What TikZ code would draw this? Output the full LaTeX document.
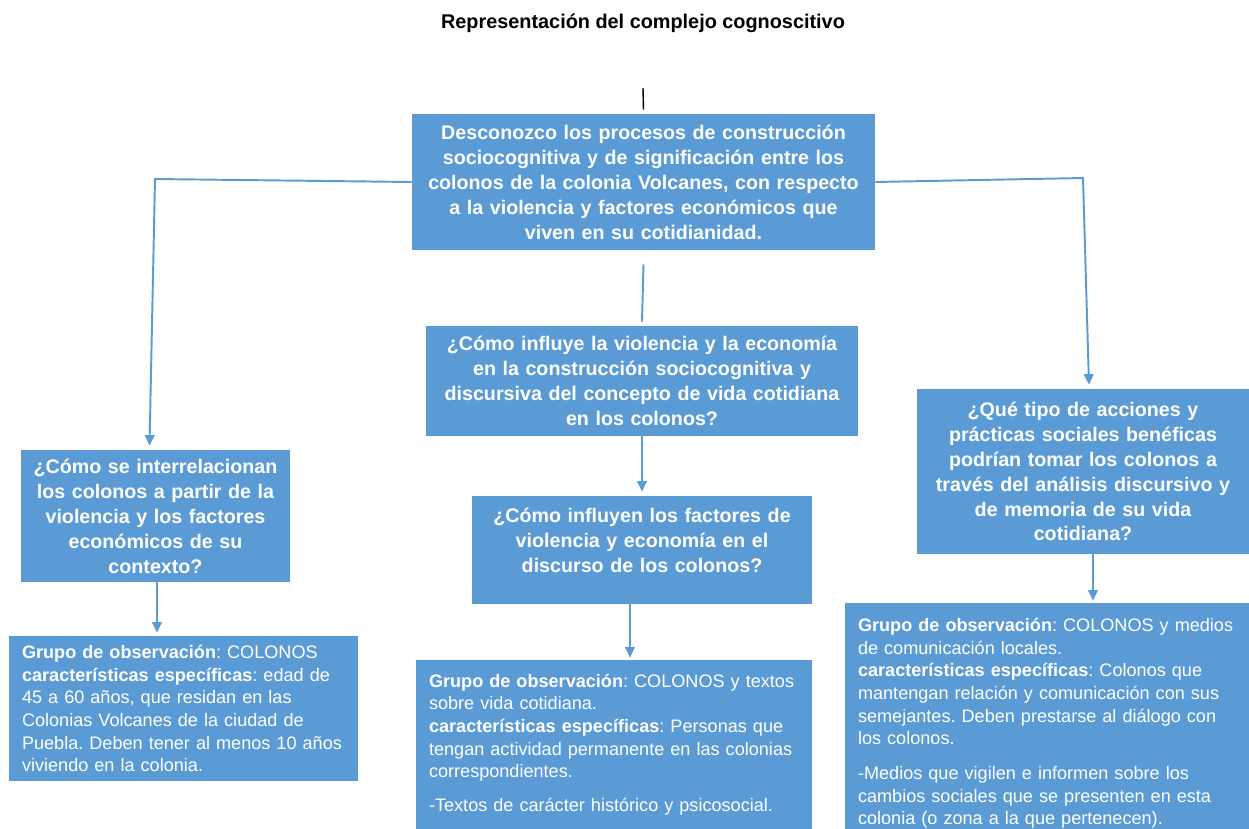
\documentclass[tikz,border=0pt]{standalone}
\usepackage{fontspec}
\setmainfont{Liberation Sans}
\usepackage{xcolor}
\usetikzlibrary{arrows.meta, positioning, calc}

\definecolor{azul}{HTML}{5B9BD5}
\frenchspacing
\hyphenpenalty=10000
\exhyphenpenalty=10000

\tikzset{
  pregunta/.style={fill=azul, text=white, align=center, inner sep=0.14cm,
    font=\fontsize{11.2}{14.2}\selectfont\bfseries},
  grupo/.style={fill=azul, text=white, align=left, inner xsep=0.26cm, inner ysep=0.1cm,
    font=\fontsize{10.3}{12.9}\selectfont},
  conector/.style={azul, line width=1.1pt},
  flecha/.style={conector, -{Triangle[width=5.5pt,length=6pt]}}
}

\begin{document}
\begin{tikzpicture}[x=0.02cm, y=-0.02cm]
      \useasboundingbox (0,0) rectangle (1249,829);

      \node[font=\fontsize{11.3}{13}\selectfont\bfseries] (titulo) at (643,23) {Representación del complejo cognoscitivo};

      % caja principal
      \node[pregunta, text width=8.98cm, minimum height=2.72cm] (top) at (643.5,182)
        {Desconozco los procesos de construcción\\ sociocognitiva y de significación entre los\\ colonos de la colonia Volcanes, con respecto\\ a la violencia y factores económicos que\\ viven en su cotidianidad.};

      % preguntas
      \node[pregunta, text width=8.36cm, minimum height=2.2cm] (pregA) at (642,381)
        {¿Cómo influye la violencia y la economía\\ en la construcción sociocognitiva y\\ discursiva del concepto de vida cotidiana\\ en los colonos?};
      \node[pregunta, text width=6.52cm, minimum height=2.16cm] (pregB) at (642,550)
        {¿Cómo influyen los factores de\\ violencia y economía en el\\ discurso de los colonos?\\[-0.1cm]\mbox{}};
      \node[pregunta, text width=5.1cm, minimum height=2.64cm] (pregIzq) at (155.5,516)
        {¿Cómo se interrelacionan\\ los colonos a partir de la\\ violencia y los factores\\ económicos de su\\ contexto?};
      \node[pregunta, text width=6.36cm, minimum height=3.3cm] (pregDer) at (1083,471.5)
        {¿Qué tipo de acciones y\\ prácticas sociales benéficas\\ podrían tomar los colonos a\\ través del análisis discursivo y\\ de memoria de su vida\\ cotidiana?};

      % grupos de observacion
      \node[grupo, text width=6.46cm, minimum height=2.9cm] (grupoIzq) at (183.5,708.5)
        {\textbf{Grupo de observación}: COLONOS\\ \textbf{características específicas}: edad de\\ 45 a 60 años, que residan en las\\ Colonias Volcanes de la ciudad de\\ Puebla. Deben tener al menos 10 años\\ viviendo en la colonia.};
      \node[grupo, text width=7.4cm, minimum height=3.38cm] (grupoCen) at (614,744.5)
        {\textbf{Grupo de observación}: COLONOS y textos\\ sobre vida cotidiana.\\ \textbf{características específicas}: Personas que\\ tengan actividad permanente en las colonias\\ correspondientes.\\[6pt] -Textos de carácter histórico y psicosocial.};
      \node[grupo, inner ysep=0pt, text width=7.56cm, minimum height=4.52cm] (grupoDer) at (1047,716)
        {\rule{0pt}{16pt}\textbf{Grupo de observación}: COLONOS y medios\\ de comunicación locales.\\ \textbf{características específicas}: Colonos que\\ mantengan relación y comunicación con sus\\ semejantes. Deben prestarse al diálogo con\\ los colonos.\\[7pt] -Medios que vigilen e informen sobre los\\ cambios sociales que se presenten en esta\\ colonia (o zona a la que pertenecen).};

      % conectores
      \coordinate (marca) at (643,88);
      \draw[line width=0.8pt] (marca) -- ([yshift=0.08cm]top.north);

      \draw[conector] ([yshift=-0.28cm]top.south) -- ([yshift=0.08cm]pregA.north);
      \draw[flecha] (pregA.south) -- ([yshift=0.08cm]pregB.north);

      \coordinate (codoIzq) at (155,179);
      \draw[flecha] (top.west) -- (codoIzq) -- ([xshift=-0.12cm,yshift=0.08cm]pregIzq.north);
      \coordinate (codoDer) at (1083,178);
      \draw[flecha] (top.east) -- (codoDer) -- ([xshift=0.12cm,yshift=0.08cm]pregDer.north);

      \coordinate (salidaIzq) at ([xshift=0.03cm]pregIzq.south);
      \draw[flecha] (salidaIzq) -- ([yshift=0.06cm]salidaIzq |- grupoIzq.north);
      \coordinate (salidaB) at ([xshift=-0.24cm]pregB.south);
      \draw[flecha] (salidaB) -- ([yshift=0.04cm]salidaB |- grupoCen.north);
      \coordinate (salidaDer) at ([xshift=0.2cm]pregDer.south);
      \draw[flecha] (salidaDer) -- ([yshift=0.04cm]salidaDer |- grupoDer.north);
    \end{tikzpicture}
\end{document}
